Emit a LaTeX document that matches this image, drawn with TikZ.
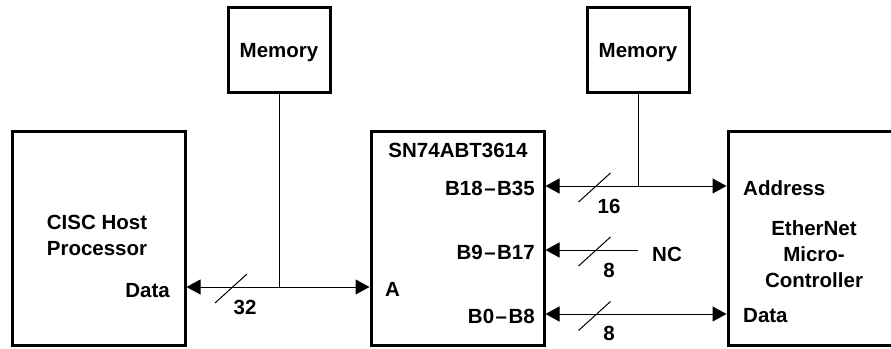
\documentclass[tikz,border=0pt]{standalone}
\usepackage{fontspec}
\setmainfont{Liberation Sans}
\usetikzlibrary{arrows.meta}
\newcommand{\lblfont}{\bfseries\fontsize{20.5}{26}\selectfont}
\begin{document}
\begin{tikzpicture}[x=1pt,y=-1pt,
  box/.style={draw, line width=3pt, inner sep=0pt, minimum width=173pt, minimum height=214pt},
  membox/.style={draw, line width=3pt, inner sep=0pt, minimum width=102pt, minimum height=85pt, font=\lblfont},
  lbl/.style={inner sep=0pt, font=\lblfont},
  wire/.style={line width=1pt},
  tip/.style={},
  bus/.style={wire, {Triangle[length=14pt,width=15pt]}-{Triangle[length=14pt,width=15pt]}},
  busl/.style={wire, {Triangle[length=14pt,width=15pt]}-},
  slashmark/.style={line width=1pt}]
\useasboundingbox (0,0) rectangle (891,348);
\clip (0,0) rectangle (891,348);
% boxes
\node[box] (cisc) at (98.5,238) {};
\node[box] (sn) at (457.5,238) {};
\node[box] (eth) at (814.5,238) {};
\node[membox] (mem1) at (279,49.5) {};
\node[membox] (mem2) at (638,49.5) {};
% box texts
\node[lbl, anchor=base] (mt1) at (279,57) {Memory};
\node[lbl, anchor=base] (mt2) at (638,57) {Memory};
\node[lbl, anchor=base] (c1) at (97,229) {CISC Host};
\node[lbl, anchor=base] (c2) at (97,255) {Processor};
\node[lbl, anchor=base east] (cd) at (170,297) {Data};
\node[lbl, anchor=base] (snt) at (458,157) {SN74ABT3614};
\node[lbl, anchor=base east] (pb1) at (535,195) {B18\kern1.5pt–\kern1.5pt B35};
\node[lbl, anchor=base east] (pb2) at (535,259) {B9\kern1.5pt–\kern1.5pt B17};
\node[lbl, anchor=base east] (pb3) at (535,323) {B0\kern1.5pt–\kern1.5pt B8};
\node[lbl, anchor=base west] (pa) at (385,296) {A};
\node[lbl, anchor=base west] (ea) at (743,195) {Address};
\node[lbl, anchor=base] (e1) at (814,235) {EtherNet};
\node[lbl, anchor=base] (e2) at (814,261) {Micro-};
\node[lbl, anchor=base] (e3) at (814,287) {Controller};
\node[lbl, anchor=base west] (ed) at (743,322) {Data};
\node[lbl, anchor=base west] (nct) at (652,261) {NC};
% width labels
\node[lbl, anchor=base] (w32) at (245,314) {32};
\node[lbl, anchor=base] (w16) at (609,213) {16};
\node[lbl, anchor=base] (w8a) at (609,277) {8};
\node[lbl, anchor=base] (w8b) at (609,340) {8};
% levels
\coordinate (yA) at (0,287);
\coordinate (yH) at (0,186);
\coordinate (yM) at (0,250);
\coordinate (yL) at (0,314);
\coordinate (nc) at (638,250);
% connectors
\draw[bus] (cisc.east |- yA) -- (sn.west |- yA);
\draw[wire] (mem1.south) -- (mem1.south |- yA);
\draw[bus] (sn.east |- yH) -- (eth.west |- yH);
\draw[wire] (mem2.south) -- (mem2.south |- yH);
\draw[busl] (sn.east |- yM) -- (nc);
\draw[bus] (sn.east |- yL) -- (eth.west |- yL);
% slashes
\coordinate (s1) at (231,288.5);
\coordinate (s2) at (594.5,187.5);
\coordinate (s3) at (594.5,251.5);
\coordinate (s4) at (594.5,316);
\foreach \s in {s1,s2,s3,s4}
  \draw[slashmark] ([shift={(-16,14.5)}]\s) -- ([shift={(16,-14.5)}]\s);
\end{tikzpicture}
\end{document}
